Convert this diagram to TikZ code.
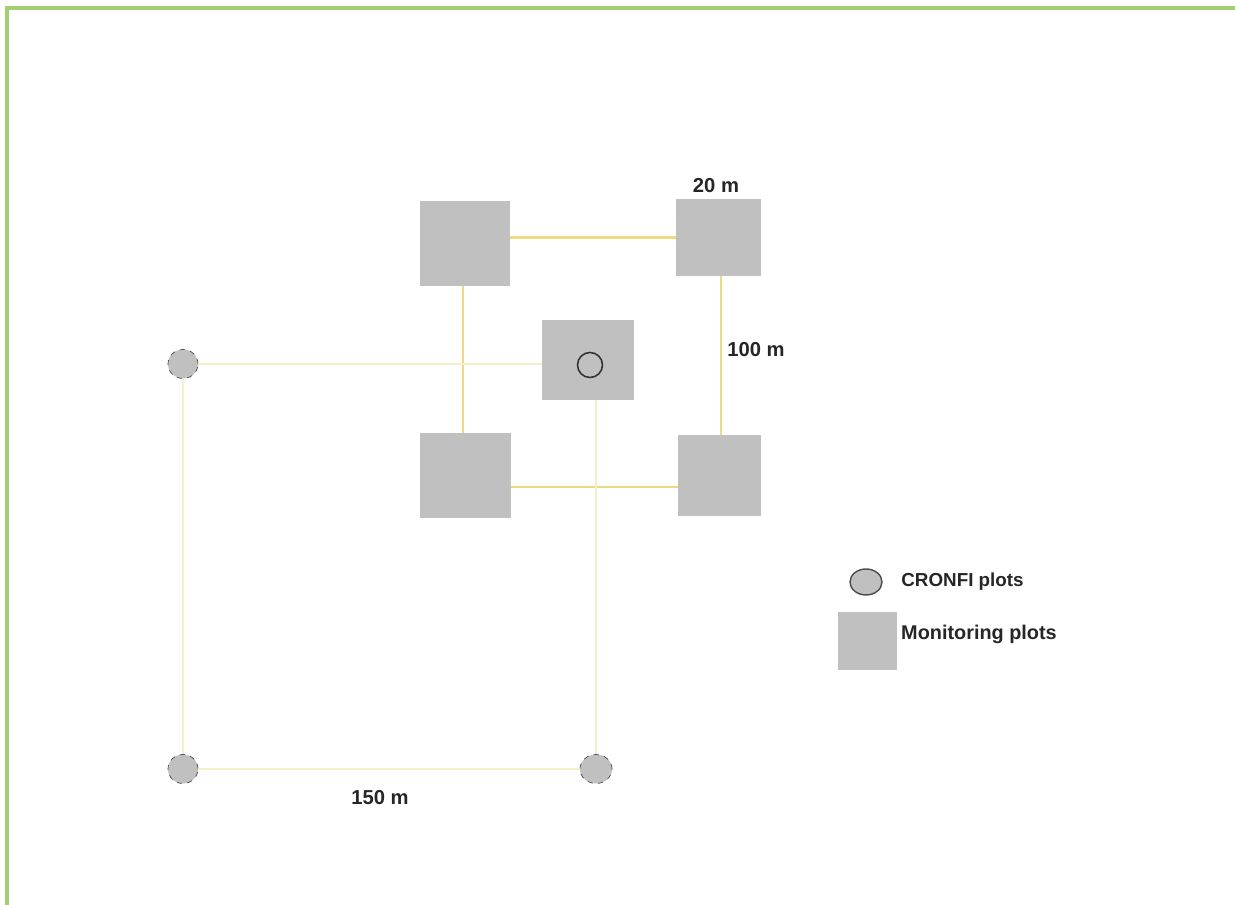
\documentclass[tikz,border=0pt]{standalone}
\usepackage{fontspec}
\setmainfont{Liberation Sans}
\usetikzlibrary{positioning, shapes.geometric}
\definecolor{framegreen}{RGB}{164, 206, 116}
\definecolor{plotgray}{RGB}{192, 192, 192}
\definecolor{lineyellow}{RGB}{238, 218, 130}
\definecolor{paleyellow}{RGB}{246, 240, 200}

\begin{document}
\begin{tikzpicture}[
    monbox/.style={draw=none, fill=plotgray, inner sep=0pt},
    cronfi/.style={draw=black!70, dashed, fill=plotgray, ellipse, inner sep=0pt, minimum width=0.6cm, minimum height=0.58cm},
    link/.style={lineyellow, line width=1.4pt},
    pale/.style={paleyellow, line width=1pt},
    dist/.style={font=\fontsize{11.5}{13}\selectfont\bfseries, text=black!85}
]
\useasboundingbox (0,0) rectangle (24.7,18.1);

    % Frame
    \draw[framegreen, line width=2.2pt] (0.14,0) -- (0.14,17.94) -- (24.7,17.94);

    % Monitoring plots
    \node[monbox, minimum width=1.8cm, minimum height=1.7cm] (tl) at (9.30,13.23) {};
    \node[monbox, minimum width=1.7cm, minimum height=1.54cm] (tr) at (14.37,13.35) {};
    \node[monbox, minimum width=1.84cm, minimum height=1.6cm] (ctr) at (11.76,10.90) {};
    \node[monbox, minimum width=1.82cm, minimum height=1.7cm] (bl) at (9.30,8.58) {};
    \node[monbox, minimum width=1.66cm, minimum height=1.62cm] (br) at (14.39,8.58) {};

    % CRONFI plots
    \node[cronfi] (c1) at (3.66,10.82) {};
    \node[cronfi] (c2) at (3.66,2.72) {};
    \node[cronfi, minimum width=0.64cm] (c3) at (11.92,2.72) {};
    \node[draw=black!80, line width=0.9pt, circle, inner sep=0pt, minimum size=0.5cm] (c0) at (11.80,10.80) {};

    % Connections
    \draw[link] (tl.east |- tr) -- (tr.west);
    \draw[link] (bl.east |- 0,8.36) -- (br.west |- 0,8.36);
    \draw[link] (tl.south -| 9.26,0) -- (bl.north -| 9.26,0);
    \draw[link] (tr.south -| 14.42,0) -- (br.north -| 14.42,0);
    \draw[pale] (c1) -- (ctr.west |- c1);
    \draw[pale] (c1) -- (c2);
    \draw[pale] (c2) -- (c3);
    \draw[pale] (c3) -- (c3 |- ctr.south);

    % Distances
    \node[dist] (d20) at (14.32,14.38) {20 m};
    \node[dist] (d100) at (15.12,11.10) {100 m};
    \node[dist] (d150) at (7.60,2.14) {150 m};

    % Legend
    \node[draw=black!70, fill=plotgray, ellipse, line width=0.8pt, inner sep=0pt, minimum width=0.64cm, minimum height=0.52cm] (lc) at (17.32,6.46) {};
    \node[dist, right=0.25cm of lc, font=\fontsize{10.7}{12}\selectfont\bfseries] (lct) {CRONFI plots};
    \node[monbox, minimum width=1.18cm, minimum height=1.16cm] (ls) at (17.35,5.28) {};
    \node[dist, anchor=west, font=\fontsize{11.3}{12}\selectfont\bfseries] (lst) at (17.90,5.42) {Monitoring plots};

\end{tikzpicture}
\end{document}
